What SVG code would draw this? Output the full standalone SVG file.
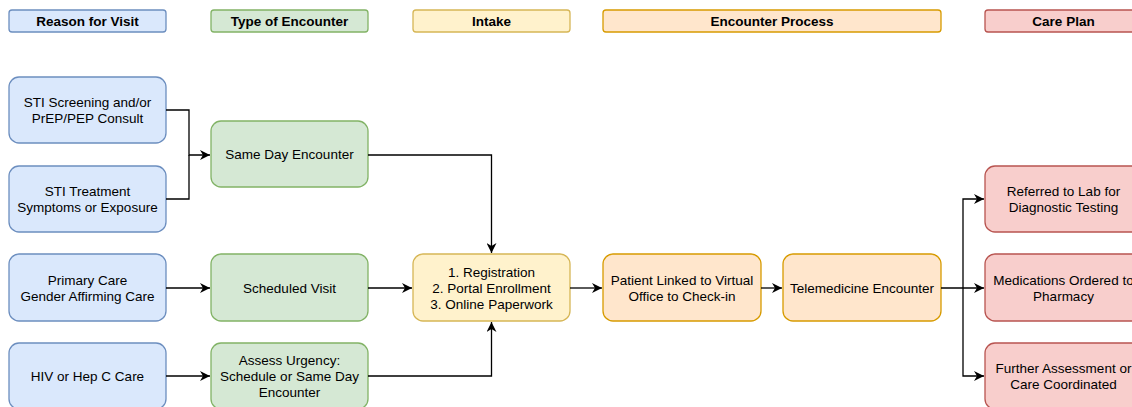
<svg xmlns="http://www.w3.org/2000/svg" width="1132" height="407" viewBox="0 0 1132 407">
<style>
text{font-family:"Liberation Sans",Arial,Helvetica,sans-serif;font-size:13.5px;fill:#000;text-anchor:middle}
.h text{font-weight:bold}
.b{fill:#dae8fc;stroke:#6c8ebf}
.g{fill:#d5e8d4;stroke:#82b366}
.y{fill:#fff2cc;stroke:#d6b656}
.o{fill:#ffe6cc;stroke:#d79b00}
.r{fill:#f8cecc;stroke:#b85450}
rect{stroke-width:1.3}
.c path{fill:none;stroke:#000;stroke-width:1.3}
</style>
<defs>
<marker id="a" viewBox="0 0 10 10" refX="10" refY="5" markerWidth="10" markerHeight="10" markerUnits="userSpaceOnUse" orient="auto">
<path d="M0,0 L10,5 L0,10 L3,5 Z" fill="#000"/>
</marker>
</defs>
<g class="h" id="h1"><rect class="b" x="9" y="10" width="157" height="22" rx="3"/><text x="87.5" y="26">Reason for Visit</text></g>
<g class="h" id="h2"><rect class="g" x="211" y="10" width="157" height="22" rx="3"/><text x="289.5" y="26">Type of Encounter</text></g>
<g class="h" id="h3"><rect class="y" x="413" y="10" width="157" height="22" rx="3"/><text x="491.5" y="26">Intake</text></g>
<g class="h" id="h4"><rect class="o" x="603" y="10" width="338" height="22" rx="3"/><text x="772" y="26">Encounter Process</text></g>
<g class="h" id="h5"><rect class="r" x="985" y="10" width="157" height="22" rx="3"/><text x="1063.5" y="26">Care Plan</text></g>

<g id="n1"><rect class="b" x="9" y="77" width="157" height="66" rx="10"/><text x="87.5" y="107">STI Screening and/or</text><text x="87.5" y="123">PrEP/PEP Consult</text></g>
<g id="n2"><rect class="b" x="9" y="166" width="157" height="66" rx="10"/><text x="87.5" y="196">STI Treatment</text><text x="87.5" y="212">Symptoms or Exposure</text></g>
<g id="n3"><rect class="b" x="9" y="254" width="157" height="67" rx="10"/><text x="87.5" y="285">Primary Care</text><text x="87.5" y="301">Gender Affirming Care</text></g>
<g id="n4"><rect class="b" x="9" y="343" width="157" height="66" rx="10"/><text x="87.5" y="381">HIV or Hep C Care</text></g>

<g id="n5"><rect class="g" x="211" y="121" width="157" height="66" rx="10"/><text x="289.5" y="159">Same Day Encounter</text></g>
<g id="n6"><rect class="g" x="211" y="254" width="157" height="67" rx="10"/><text x="289.5" y="293">Scheduled Visit</text></g>
<g id="n7"><rect class="g" x="211" y="343" width="157" height="66" rx="10"/><text x="289.5" y="365">Assess Urgency:</text><text x="289.5" y="381">Schedule or Same Day</text><text x="289.5" y="397">Encounter</text></g>

<g id="n8"><rect class="y" x="413" y="254" width="157" height="67" rx="10"/><text x="491.5" y="277">1. Registration</text><text x="491.5" y="293">2. Portal Enrollment</text><text x="491.5" y="309">3. Online Paperwork</text></g>
<g id="n9"><rect class="o" x="603" y="254" width="158" height="67" rx="10"/><text x="682" y="285">Patient Linked to Virtual</text><text x="682" y="301">Office to Check-in</text></g>
<g id="n10"><rect class="o" x="783" y="254" width="158" height="67" rx="10"/><text x="862" y="293">Telemedicine Encounter</text></g>

<g id="n11"><rect class="r" x="985" y="166" width="157" height="66" rx="10"/><text x="1063.5" y="196">Referred to Lab for</text><text x="1063.5" y="212">Diagnostic Testing</text></g>
<g id="n12"><rect class="r" x="985" y="254" width="157" height="67" rx="10"/><text x="1063.5" y="285">Medications Ordered to</text><text x="1063.5" y="301">Pharmacy</text></g>
<g id="n13"><rect class="r" x="985" y="343" width="157" height="66" rx="10"/><text x="1063.5" y="373">Further Assessment or</text><text x="1063.5" y="389">Care Coordinated</text></g>

<g class="c" id="connectors">
<path d="M166,110 H189 V155 H210" marker-end="url(#a)"/>
<path d="M166,199 H189 V155"/>
<path d="M368,155 H491.5 V253" marker-end="url(#a)"/>
<path d="M166,288 H210" marker-end="url(#a)"/>
<path d="M166,376 H210" marker-end="url(#a)"/>
<path d="M368,288 H412" marker-end="url(#a)"/>
<path d="M368,376 H491.5 V322" marker-end="url(#a)"/>
<path d="M570,288 H602" marker-end="url(#a)"/>
<path d="M761,288 H782" marker-end="url(#a)"/>
<path d="M941,288 H984" marker-end="url(#a)"/>
<path d="M963,288 V199 H984" marker-end="url(#a)"/>
<path d="M963,288 V376 H984" marker-end="url(#a)"/>
</g>
</svg>
